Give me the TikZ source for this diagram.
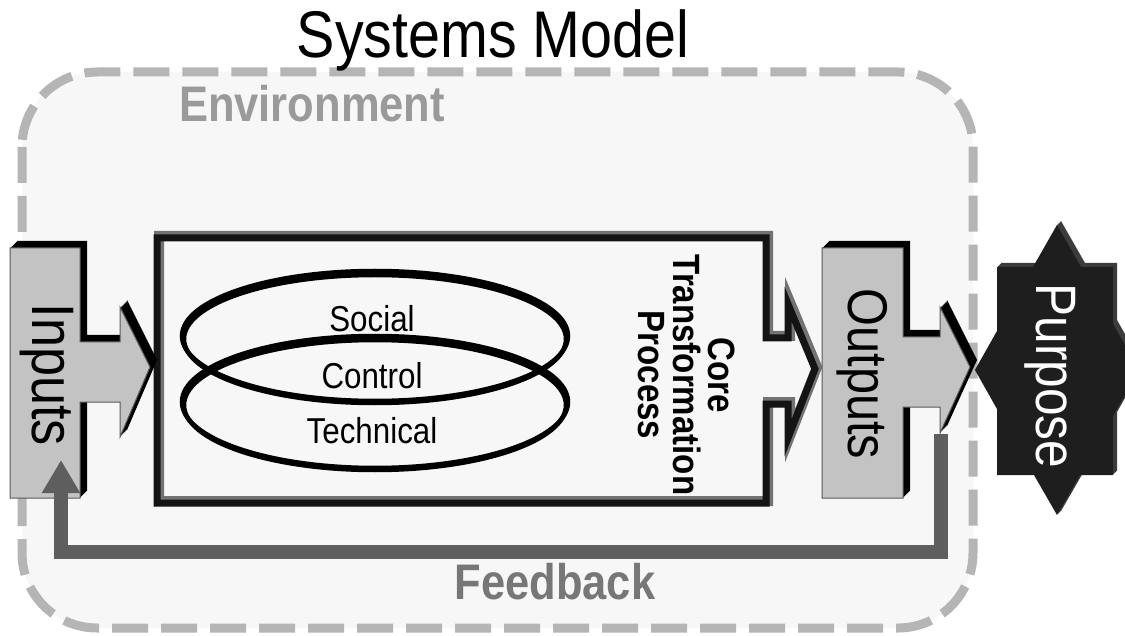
\documentclass[tikz,border=0pt]{standalone}
\usepackage{fontspec}
\setmainfont{Liberation Sans}[FakeStretch=0.87]
\usetikzlibrary{arrows.meta}
\definecolor{envfill}{HTML}{F7F7F7}
\definecolor{envline}{HTML}{B5B5B5}
\definecolor{boxgray}{HTML}{C3C3C3}
\definecolor{fbgray}{HTML}{5E5E5E}
\definecolor{envtext}{HTML}{9A9A9A}
\definecolor{fbtext}{HTML}{777777}
\definecolor{purp}{HTML}{1E1E1E}
\definecolor{purpside}{HTML}{3C3C3C}
\newcommand\inshape[1]{\fill[#1] (10,248) -- (80,248) -- (80,342) -- (120,342) -- (120,307) -- (150,367) -- (120,437) -- (120,402) -- (80,402) -- (80,498) -- (10,498) -- cycle;}
\newcommand\outshape[1]{\fill[#1] (822,248) -- (903,248) -- (903,337) -- (940,337) -- (940,307) -- (970,367) -- (940,433) -- (940,407) -- (903,407) -- (903,498) -- (822,498) -- cycle;}
\newcommand\purpshape[1]{\fill[#1] (1057,225) -- (1081,267) -- (1113,267) -- (1113,324) -- (1139,370) -- (1113,416) -- (1113,475) -- (1080,475) -- (1057,515) -- (1034,475) -- (997,475) -- (997,409) -- (975,370) -- (997,331) -- (997,267) -- (1033,267) -- cycle;}
\newcommand\coreshape[1]{\draw[#1] (157,238) -- (766,238) -- (766,338) -- (788,338) -- (788,304) -- (815,369) -- (788,438) -- (788,404) -- (766,404) -- (766,503) -- (157,503) -- cycle;}
\begin{document}
\begin{tikzpicture}[x=1pt,y=-1pt,
  lbl/.style={inner sep=0pt, text=black},
  facestroke/.style={draw=black!65, line width=1pt},
  ring/.style={line width=4.5pt, black}]
\useasboundingbox (0,0) rectangle (1125,636);
\fill[white] (0,0) rectangle (1125,636);
% environment
\draw[envline, fill=envfill, line width=9pt, dash pattern=on 36pt off 13pt, rounded corners=75pt] (22,72) rectangle (973,628);
\node[lbl, font=\fontsize{66}{70}\selectfont] (title) at (493,40) {Systems Model};
\node[lbl, text=envtext, font=\fontsize{50}{54}\selectfont\bfseries] (env) at (312,104) {Environment};
% core transformation box
\coreshape{line width=10pt, black!55, line join=miter, shift={(2,-2)}}
\coreshape{line width=7pt, black!92, line join=miter}
% ellipses
\draw[ring] (375,336) ellipse [x radius=193pt, y radius=65pt];
\draw[ring] (375,339) ellipse [x radius=191pt, y radius=64pt];
\draw[ring] (375,402) ellipse [x radius=193pt, y radius=66pt];
\draw[ring] (375,405) ellipse [x radius=191pt, y radius=65pt];
\node[lbl, font=\fontsize{36}{40}\selectfont] (social) at (372,319) {Social};
\node[lbl, font=\fontsize{36}{40}\selectfont] (control) at (372,376) {Control};
\node[lbl, font=\fontsize{36}{40}\selectfont] (technical) at (372,431) {Technical};
\node[lbl, rotate=-90, align=center, font=\fontsize{38}{35}\selectfont\bfseries] (core) at (687,375) {Core\\Transformation\\Process};
% inputs
\foreach \d in {1,...,7}{\inshape{black, shift={(\d,-\d)}}}
\inshape{boxgray, facestroke}
\node[lbl, rotate=-90, font=\fontsize{60}{64}\selectfont] (inputs) at (47,375) {Inputs};
% feedback
\coordinate (fbstart) at (941,434);
\coordinate (fbend) at (61,460);
\draw[fbgray, line width=14pt, line join=miter, -{Triangle[length=33pt, width=36pt]}] (fbstart) -- ++(0,118) -| (fbend);
\node[lbl, text=fbtext, font=\fontsize{50}{54}\selectfont\bfseries] (feedback) at (555,582) {Feedback};
% outputs
\foreach \d in {1,...,7}{\outshape{black, shift={(\d,-\d)}}}
\outshape{boxgray, facestroke}
\node[lbl, rotate=-90, font=\fontsize{56}{60}\selectfont] (outputs) at (862,374) {Outputs};
% purpose
\foreach \d in {1,...,4}{\purpshape{purpside, shift={(\d,-\d)}}}
\purpshape{purp}
\node[lbl, rotate=-90, text=white, font=\fontsize{57}{60}\selectfont] (purpose) at (1050,376) {Purpose};
\end{tikzpicture}
\end{document}
